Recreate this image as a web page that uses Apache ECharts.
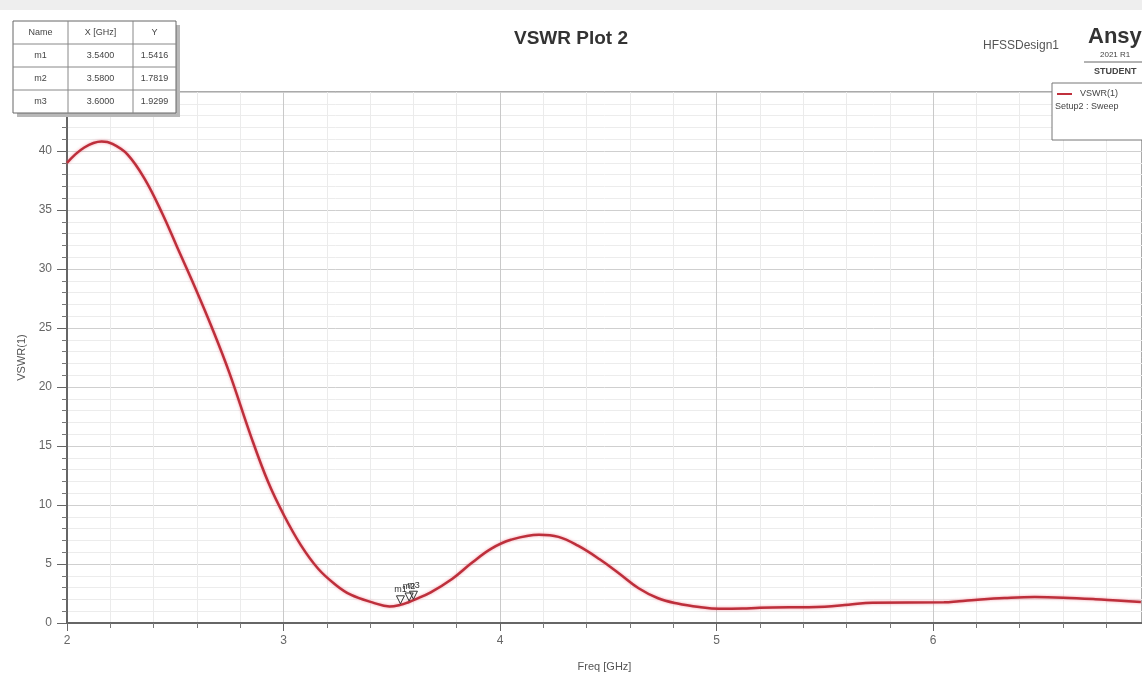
<!DOCTYPE html>
<html>
<head>
<meta charset="utf-8">
<script src="https://cdn.jsdelivr.net/npm/echarts@6/dist/echarts.min.js"></script>
<style>html,body{margin:0;padding:0;background:#fff;}#c{width:1142px;height:677px;}</style>
</head>
<body>
<div id="c"></div>
<script>
// ---- data ----
const freq = [2.0, 2.08, 2.16, 2.21, 2.28, 2.36, 2.44, 2.51, 2.59, 2.67, 2.75, 2.85, 2.93, 3.0, 3.08, 3.16, 3.24, 3.31, 3.41, 3.49, 3.54, 3.58, 3.6, 3.68, 3.78, 3.87, 3.96, 4.05, 4.18, 4.27, 4.36, 4.46, 4.55, 4.64, 4.73, 4.82, 4.92, 5.01, 5.12, 5.2, 5.5, 5.61, 5.72, 6.05, 6.12, 6.22, 6.33, 6.47, 6.6, 6.75, 6.85, 6.96];
const vswr = [39.0, 40.3, 40.8, 40.6, 39.7, 37.6, 34.7, 31.8, 28.5, 25.0, 21.2, 15.8, 11.9, 9.2, 6.6, 4.6, 3.25, 2.4, 1.75, 1.4, 1.5416, 1.7819, 1.9299, 2.6, 3.75, 5.1, 6.3, 7.05, 7.48, 7.3, 6.55, 5.4, 4.2, 2.95, 2.1, 1.65, 1.35, 1.2, 1.22, 1.3, 1.38, 1.55, 1.72, 1.75, 1.85, 2.0, 2.12, 2.2, 2.15, 2.02, 1.9, 1.78];
const markerNames = ['m1', 'm2', 'm3'];
const markerX = ['3.5400', '3.5800', '3.6000'];
const markerY = ['1.5416', '1.7819', '1.9299'];
const tableHeader = ['Name', 'X [GHz]', 'Y'];
const xTicks = [2, 3, 4, 5, 6, 7];
const yTicks = [0, 5, 10, 15, 20, 25, 30, 35, 40];

const FONT = 'Liberation Sans';
const chart = echarts.init(document.getElementById('c'), null, {renderer: 'canvas'});

// marker table graphic
const tblX = [13, 68, 133, 176];
const tblTop = 21, rowH = 23;
const tblRows = [tableHeader].concat(markerNames.map((n, i) => [n, markerX[i], markerY[i]]));
const tableEls = [];
const tblW = tblX[3] - tblX[0], tblH = rowH * tblRows.length;
tableEls.push({type: 'rect', shape: {x: tblX[0] + 4, y: tblTop + 4, width: tblW, height: tblH}, style: {fill: '#b8b8b8'}, z: 100});
tableEls.push({type: 'rect', shape: {x: tblX[0], y: tblTop, width: tblW, height: tblH}, style: {fill: '#fff', stroke: '#666', lineWidth: 1}, z: 101});
for (let r = 1; r < tblRows.length; r++) {
  tableEls.push({type: 'line', shape: {x1: tblX[0], y1: tblTop + r * rowH, x2: tblX[3], y2: tblTop + r * rowH}, style: {stroke: '#888', lineWidth: 1}, z: 102});
}
for (let c = 1; c < 3; c++) {
  tableEls.push({type: 'line', shape: {x1: tblX[c], y1: tblTop, x2: tblX[c], y2: tblTop + tblH}, style: {stroke: '#888', lineWidth: 1}, z: 102});
}
tblRows.forEach((row, r) => {
  row.forEach((t, c) => {
    tableEls.push({type: 'text', x: (tblX[c] + tblX[c + 1]) / 2, y: tblTop + r * rowH + rowH / 2,
      style: {text: t, fontSize: 9, fontFamily: FONT, fill: '#444', align: 'center', verticalAlign: 'middle'}, z: 103});
  });
});

const option = {
  backgroundColor: '#fff',
  animation: false,
  title: {
    text: 'VSWR Plot 2', left: 'center', top: 24,
    textStyle: {fontSize: 19, fontWeight: 'bold', color: '#333', fontFamily: FONT}
  },
  grid: {left: 67, top: 92, right: 0, bottom: 49, show: true, borderColor: '#555', borderWidth: 1, backgroundColor: 'transparent'},
  xAxis: {
    type: 'value', min: 2, max: 6.965, interval: 1,
    name: 'Freq [GHz]', nameLocation: 'middle', nameGap: 38,
    nameTextStyle: {fontSize: 11, color: '#555', fontFamily: FONT},
    axisLine: {onZero: false, lineStyle: {color: '#666', width: 2}},
    axisTick: {show: true, length: 8, lineStyle: {color: '#666'}},
    minorTick: {show: true, splitNumber: 5, length: 5, lineStyle: {color: '#777'}},
    axisLabel: {fontSize: 12, color: '#666', fontFamily: FONT, margin: 12, showMaxLabel: false,
      formatter: v => xTicks.includes(v) ? String(v) : ''},
    splitLine: {show: true, lineStyle: {color: '#c9c9c9', width: 1}},
    minorSplitLine: {show: true, lineStyle: {color: '#ebebeb', width: 1}}
  },
  yAxis: {
    type: 'value', min: 0, max: 45, interval: 5,
    name: 'VSWR(1)', nameLocation: 'middle', nameGap: 40,
    nameTextStyle: {fontSize: 11, color: '#555', fontFamily: FONT},
    axisLine: {show: true, lineStyle: {color: '#666', width: 2}},
    axisTick: {show: true, length: 10, lineStyle: {color: '#666'}},
    minorTick: {show: true, splitNumber: 5, length: 5, lineStyle: {color: '#777'}},
    axisLabel: {fontSize: 12, color: '#666', fontFamily: FONT, margin: 15,
      formatter: v => yTicks.includes(v) ? String(v) : ''},
    splitLine: {show: true, lineStyle: {color: '#cfcfcf', width: 1}},
    minorSplitLine: {show: true, lineStyle: {color: '#ececec', width: 1}}
  },
  series: [{
    name: 'VSWR(1)', type: 'line', showSymbol: false, smooth: 0.4,
    data: freq.map((f, i) => [f, vswr[i]]),
    lineStyle: {color: '#bd2f3b', width: 2.5, shadowColor: 'rgba(235,90,110,0.6)', shadowBlur: 3},
    itemStyle: {color: '#bd2f3b'},
    markPoint: {
      symbol: 'triangle', symbolSize: 8, symbolRotate: 180, symbolOffset: [0, -5],
      itemStyle: {color: 'rgba(255,255,255,0)', borderColor: '#333', borderWidth: 1},
      label: {show: true, position: 'top', distance: 1, fontSize: 9, color: '#333', fontFamily: FONT, formatter: p => p.name},
      data: markerNames.map((n, i) => ({name: n, coord: [parseFloat(markerX[i]), parseFloat(markerY[i])]}))
    }
  }],
  graphic: [
    {type: 'rect', shape: {x: 0, y: 0, width: 1142, height: 10}, style: {fill: '#eeeeee'}, z: 50},
    {type: 'text', x: 983, y: 46, style: {text: 'HFSSDesign1', fontSize: 12, fontFamily: FONT, fill: '#555', verticalAlign: 'middle'}, z: 50},
    {type: 'text', x: 1088, y: 37, style: {text: 'Ansys', fontSize: 22, fontWeight: 'bold', fontFamily: FONT, fill: '#333', verticalAlign: 'middle'}, z: 50},
    {type: 'text', x: 1100, y: 55, style: {text: '2021 R1', fontSize: 8, fontFamily: FONT, fill: '#444', verticalAlign: 'middle'}, z: 50},
    {type: 'line', shape: {x1: 1084, y1: 62, x2: 1142, y2: 62}, style: {stroke: '#666', lineWidth: 1}, z: 50},
    {type: 'text', x: 1094, y: 72, style: {text: 'STUDENT', fontSize: 9, fontWeight: 'bold', fontFamily: FONT, fill: '#444', verticalAlign: 'middle'}, z: 50},
    {type: 'rect', shape: {x: 1052, y: 83, width: 100, height: 57}, style: {fill: '#fff', stroke: '#777', lineWidth: 1}, z: 60},
    {type: 'line', shape: {x1: 1057, y1: 94, x2: 1072, y2: 94}, style: {stroke: '#c0303c', lineWidth: 2}, z: 61},
    {type: 'text', x: 1080, y: 94, style: {text: 'VSWR(1)', fontSize: 9, fontFamily: FONT, fill: '#444', verticalAlign: 'middle'}, z: 61},
    {type: 'text', x: 1055, y: 107, style: {text: 'Setup2 : Sweep', fontSize: 9, fontFamily: FONT, fill: '#444', verticalAlign: 'middle'}, z: 61}
  ].concat(tableEls)
};
chart.setOption(option);
</script>
</body>
</html>
